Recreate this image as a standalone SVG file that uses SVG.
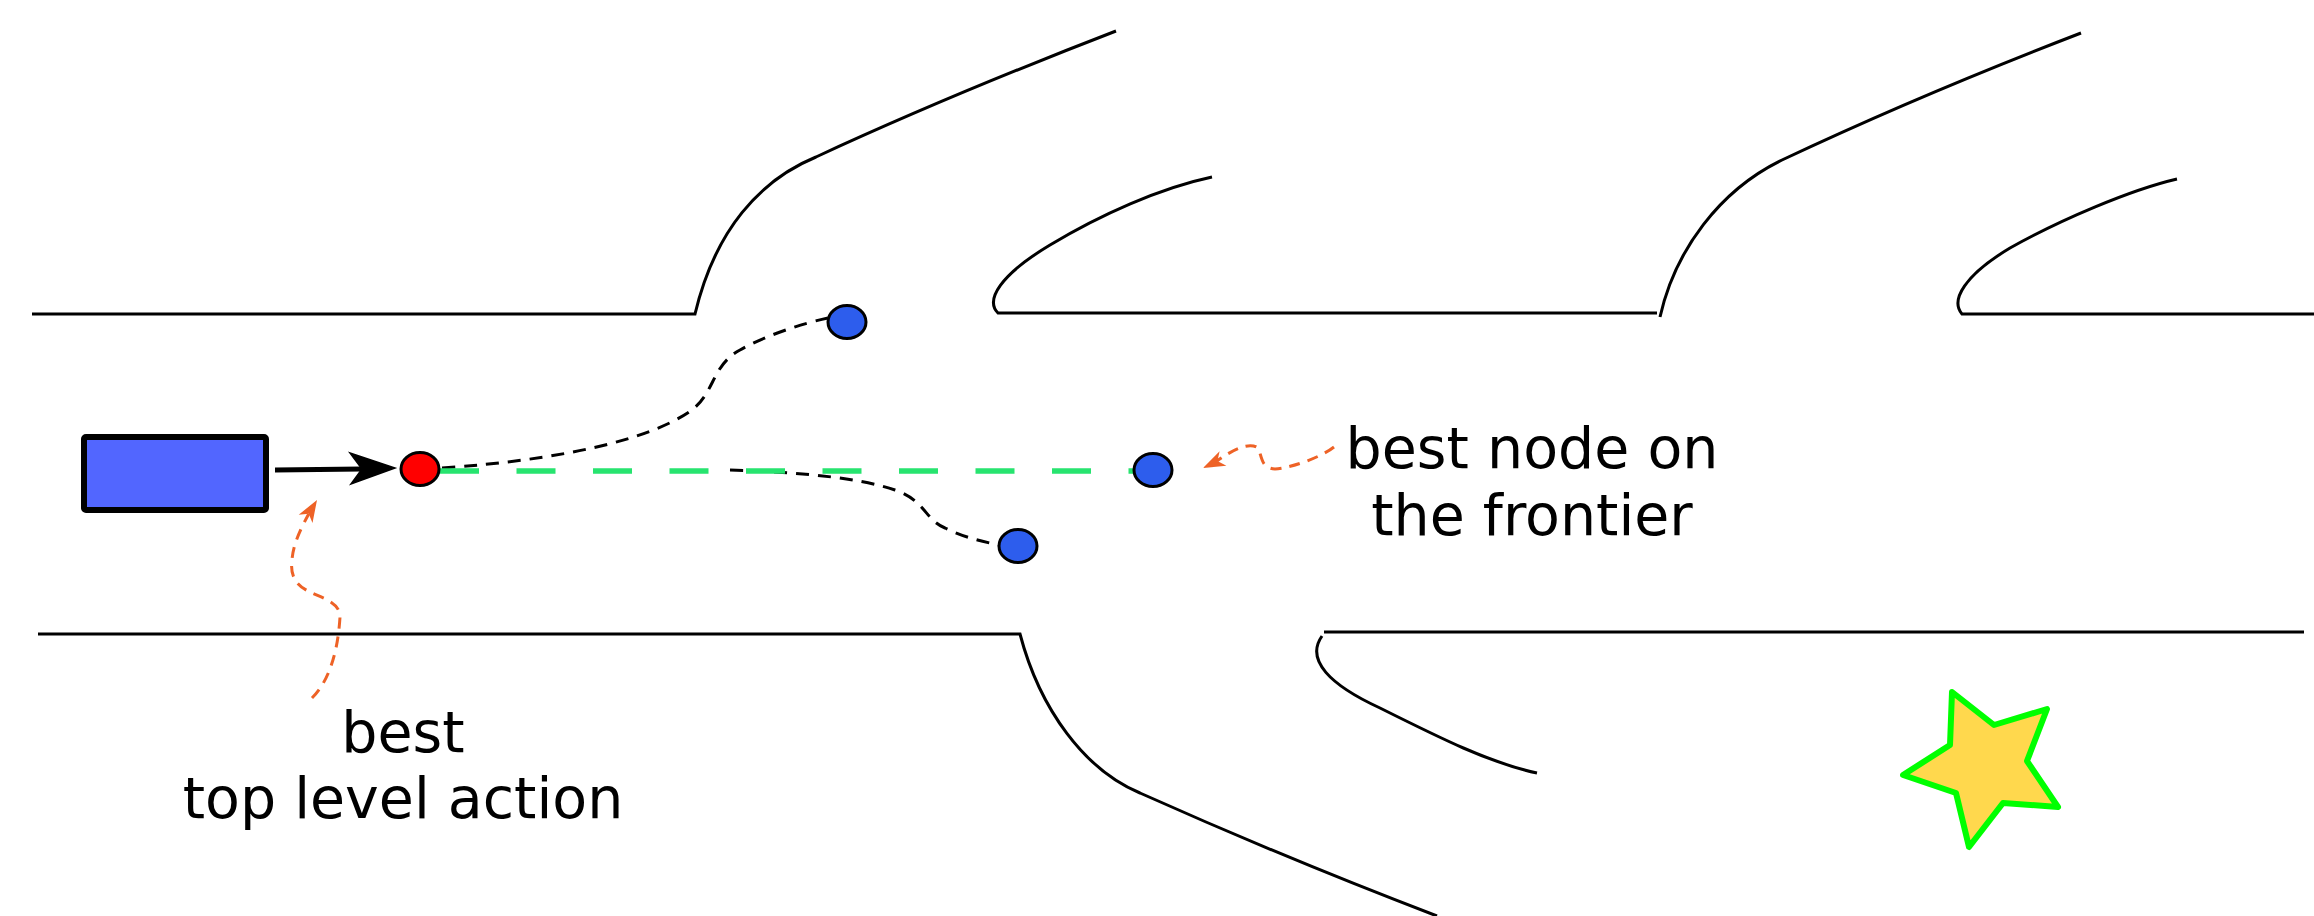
<svg xmlns="http://www.w3.org/2000/svg" width="2314" height="916" viewBox="0 0 2314 916">
<style>
.wall{fill:none;stroke:#000;stroke-width:3;stroke-linecap:butt}
.node-blue{fill:#2d5ded;stroke:#000;stroke-width:3}
.trace{fill:none;stroke:#000;stroke-width:3;stroke-dasharray:13 9}
.note{fill:none;stroke:#ee6226;stroke-width:3;stroke-dasharray:11 8}
.label{font-family:"DejaVu Sans",sans-serif;font-size:57px;fill:#000;text-anchor:middle}
</style>
<rect width="2314" height="916" fill="#fff"/>
<g id="walls">
<path class="wall" d="M32 314 H695 C715 230 760 180 816 157 Q950 95 1116 31"/>
<path class="wall" d="M1212 177 C1160 188 1100 215 1050 245 C1000 275 985 300 998 313 H1657"/>
<path class="wall" d="M1660 317 C1675 250 1720 190 1782 160 Q1920 95 2081 33"/>
<path class="wall" d="M2177 179 C2130 190 2060 220 2010 248 C1965 275 1950 300 1962 314 H2314"/>
<path class="wall" d="M38 634 H1020 C1040 710 1085 770 1140 793 Q1290 860 1437 916"/>
<path class="wall" d="M1324 632 H2304"/>
<path class="wall" d="M1322 636 C1305 660 1330 685 1380 708 C1440 738 1490 763 1537 773"/>
</g>
<g id="connectors">
<line x1="275" y1="470" x2="362" y2="469" stroke="#000" stroke-width="5"/>
<polygon points="350,453 395,468 351,484 362,469" fill="#000" stroke="#000" stroke-width="1.5" stroke-linejoin="miter"/>
<path class="trace" d="M442 468 C560 460 650 440 692 410 C715 392 712 365 740 350 C765 336 800 324 828 318"/>
<path class="trace" d="M730 470 C800 472 860 478 895 490 C925 500 925 520 945 528 C965 538 985 542 999 545"/>
<line x1="440" y1="471" x2="1136" y2="471" stroke="#27e46f" stroke-width="5.5" stroke-dasharray="39 37.5"/>
<path class="note" d="M1334 447 C1320 458 1290 468 1275 469 C1260 468 1262 455 1258 448 C1250 442 1235 448 1217 461"/>
<polygon points="1203,468 1219.6,451.3 1217.4,461 1226.4,465.7" fill="#ee6226"/>
<path class="note" d="M312 698 C330 680 338 650 340 617 C340 602 322 598 310 592 C295 585 290 575 292 560 C293 545 300 530 308.7 514"/>
<polygon points="317,500 312.5,523 308.7,513.8 298.7,514.7" fill="#ee6226"/>
</g>
<g id="action-node"><rect x="84" y="437" width="182" height="73" rx="2" fill="#5266ff" stroke="#000" stroke-width="6" stroke-linejoin="round"/></g>
<g id="root-node"><ellipse cx="420" cy="469" rx="19" ry="16.5" fill="#ff0000" stroke="#000" stroke-width="3"/></g>
<g id="node-top"><ellipse class="node-blue" cx="847" cy="322" rx="19" ry="16.5"/></g>
<g id="node-frontier"><ellipse class="node-blue" cx="1153" cy="470" rx="19" ry="16.5"/></g>
<g id="node-bottom"><ellipse class="node-blue" cx="1018" cy="546" rx="19" ry="16.5"/></g>
<g id="goal-star"><polygon points="1952,692 1994,725 2047,709 2027,761 2058,807 2003,803 1969,847 1956,793 1903,775 1950,745" fill="#ffd84d" stroke="#00ff00" stroke-width="6" stroke-linejoin="round"/></g>
<g id="label-frontier"><text class="label" x="1532" y="468">best node on</text><text class="label" x="1532" y="535">the frontier</text></g>
<g id="label-action"><text class="label" x="403" y="752">best</text><text class="label" x="403" y="818">top level action</text></g>
</svg>
